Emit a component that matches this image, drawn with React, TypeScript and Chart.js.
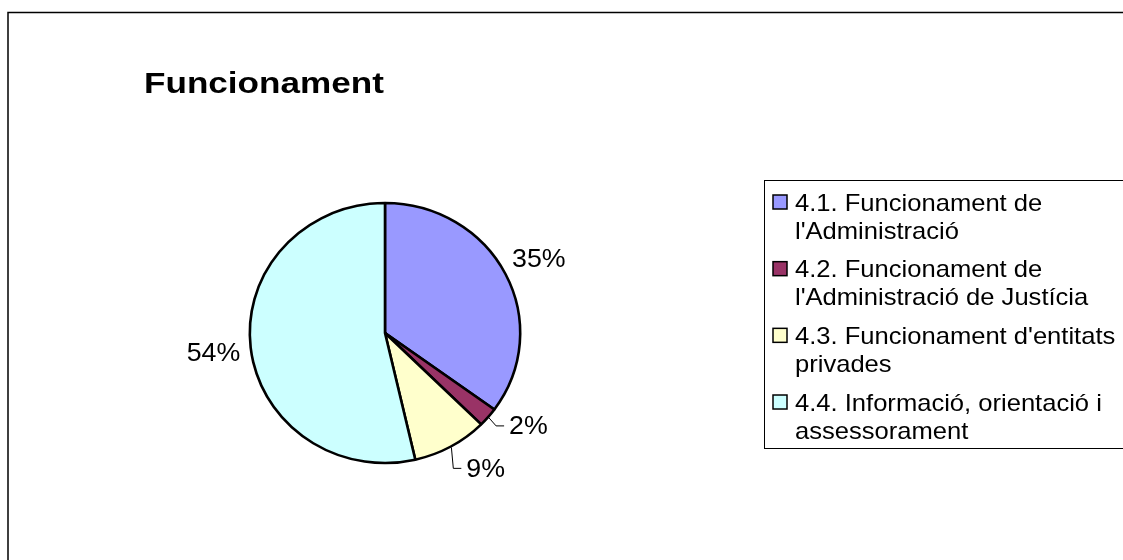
import React, { useEffect, useRef } from "react";
import { Chart, registerables } from "chart.js";

Chart.register(...registerables);

// ---- data ----
const title = "Funcionament";
const categories = [
  "4.1. Funcionament de l'Administració",
  "4.2. Funcionament de l'Administració de Justícia",
  "4.3. Funcionament d'entitats privades",
  "4.4. Informació, orientació i assessorament",
];
const legendLines = [
  ["4.1. Funcionament de", "l'Administració"],
  ["4.2. Funcionament de", "l'Administració de Justícia"],
  ["4.3. Funcionament d'entitats", "privades"],
  ["4.4. Informació, orientació i", "assessorament"],
];
const values = [35, 2.4, 9, 53.6];
const colors = ["#9999FF", "#993366", "#FFFFCC", "#CCFFFF"];
// label angular nudges (degrees) used by Excel to avoid overlaps
const labelAngleShift = [0, -6.5, -6.5, 0];

// ---- style ----
const FONT = "'Liberation Sans', Arial, Helvetica, sans-serif";
const PIE_STRETCH_X = 1.04;
const LABEL_GAP = 36;

const framePlugin = {
  id: "frame",
  beforeDraw(chart: any) {
    const ctx = chart.ctx;
    ctx.save();
    ctx.fillStyle = "#ffffff";
    ctx.fillRect(0, 0, chart.width, chart.height);
    ctx.strokeStyle = "#000000";
    ctx.lineWidth = 1.5;
    ctx.strokeRect(8, 12.5, chart.width + 50, chart.height + 50);
    ctx.restore();
  },
};

const titlePlugin = {
  id: "customTitle",
  afterDraw(chart: any) {
    const ctx = chart.ctx;
    ctx.save();
    ctx.font = `bold 30px ${FONT}`;
    ctx.fillStyle = "#000";
    ctx.textBaseline = "alphabetic";
    ctx.translate(144, 93);
    ctx.scale(1.17, 1);
    ctx.fillText(title, 0, 0);
    ctx.restore();
  },
};

const stretchPlugin = {
  id: "stretch",
  beforeDatasetsDraw(chart: any) {
    const arc = chart.getDatasetMeta(0).data[0];
    const ctx = chart.ctx;
    ctx.save();
    ctx.translate(arc.x, 0);
    ctx.scale(PIE_STRETCH_X, 1);
    ctx.translate(-arc.x, 0);
  },
  afterDatasetsDraw(chart: any) {
    chart.ctx.restore();
  },
};

const labelsPlugin = {
  id: "pctLabels",
  afterDraw(chart: any) {
    const ctx = chart.ctx;
    const ds = chart.data.datasets[0];
    const data: number[] = ds.data;
    const total = data.reduce((a, b) => a + b, 0);
    const meta = chart.getDatasetMeta(0);
    const fs = 25;
    const sx = 1.07;
    ctx.save();
    ctx.font = `${fs}px ${FONT}`;
    ctx.fillStyle = "#000";
    ctx.strokeStyle = "#000";
    ctx.lineWidth = 1;
    meta.data.forEach((arc: any, i: number) => {
      const { x, y, startAngle, endAngle, outerRadius } = arc.getProps(
        ["x", "y", "startAngle", "endAngle", "outerRadius"],
        true
      );
      const mid0 = (startAngle + endAngle) / 2;
      const mid = mid0 + (labelAngleShift[i] * Math.PI) / 180;
      const D = outerRadius + LABEL_GAP;
      const cx = x + Math.cos(mid) * D * PIE_STRETCH_X;
      const cy = y + Math.sin(mid) * D;
      const txt = Math.round((data[i] / total) * 100) + "%";
      const w = ctx.measureText(txt).width * sx;
      const left = cx - w / 2;
      const base = cy + 0.358 * fs;
      ctx.save();
      ctx.translate(left, base);
      ctx.scale(sx, 1);
      ctx.textBaseline = "alphabetic";
      ctx.fillText(txt, 0, 0);
      ctx.restore();
      if (labelAngleShift[i] !== 0) {
        const ex = x + Math.cos(mid0) * (outerRadius + 1) * PIE_STRETCH_X;
        const ey = y + Math.sin(mid0) * (outerRadius + 1);
        ctx.beginPath();
        ctx.moveTo(ex, ey);
        ctx.lineTo(left - 13, cy + 0.5);
        ctx.lineTo(left - 5, cy + 0.5);
        ctx.stroke();
      }
    });
    ctx.restore();
  },
};

const legendPlugin = {
  id: "customLegend",
  afterDraw(chart: any) {
    const ctx = chart.ctx;
    const bg: string[] = chart.data.datasets[0].backgroundColor;
    const boxLeft = 764;
    const boxTop = 180;
    const boxBottom = 448;
    const fs = 24;
    const sx = 1.065;
    const lineH = 28;
    const itemGap = 10.67;
    const firstCenter = boxTop + 22;
    ctx.save();
    ctx.strokeStyle = "#000";
    ctx.lineWidth = 1;
    ctx.fillStyle = "#fff";
    ctx.fillRect(boxLeft + 0.5, boxTop + 0.5, chart.width, boxBottom - boxTop);
    ctx.strokeRect(boxLeft + 0.5, boxTop + 0.5, chart.width, boxBottom - boxTop);
    ctx.font = `${fs}px ${FONT}`;
    ctx.textBaseline = "alphabetic";
    let c = firstCenter;
    legendLines.forEach((lines, i) => {
      const sq = 14;
      ctx.fillStyle = bg[i];
      ctx.fillRect(773, c - sq / 2, sq, sq);
      ctx.lineWidth = 1.5;
      ctx.strokeStyle = "#000";
      ctx.strokeRect(773, c - sq / 2, sq, sq);
      ctx.fillStyle = "#000";
      lines.forEach((ln, j) => {
        const base = c + j * lineH + 8.5;
        ctx.save();
        ctx.translate(795, base);
        ctx.scale(sx, 1);
        ctx.fillText(ln, 0, 0);
        ctx.restore();
      });
      c += lines.length * lineH + itemGap;
    });
    ctx.restore();
  },
};

export default function App() {
  const ref = useRef<HTMLCanvasElement | null>(null);
  useEffect(() => {
    if (!ref.current) return;
    const chart = new Chart(ref.current, {
      type: "pie",
      data: {
        labels: categories,
        datasets: [
          {
            data: values,
            backgroundColor: colors,
            borderColor: "#000000",
            borderWidth: 2.5,
            clip: false as any,
          } as any,
        ],
      },
      options: {
        responsive: false,
        animation: false,
        devicePixelRatio: 1,
        events: [],
        radius: 130,
        layout: { padding: { left: 250, right: 603, top: 203, bottom: 97 } },
        plugins: {
          legend: { display: false },
          title: { display: false },
          tooltip: { enabled: false },
        },
      } as any,
      plugins: [framePlugin, stretchPlugin, titlePlugin, labelsPlugin, legendPlugin],
    });
    return () => chart.destroy();
  }, []);
  return (
    <div style={{ position: "absolute", left: 0, top: 0, width: 1123, height: 560 }}>
      <canvas ref={ref} width={1123} height={560} style={{ display: "block" }} />
    </div>
  );
}
